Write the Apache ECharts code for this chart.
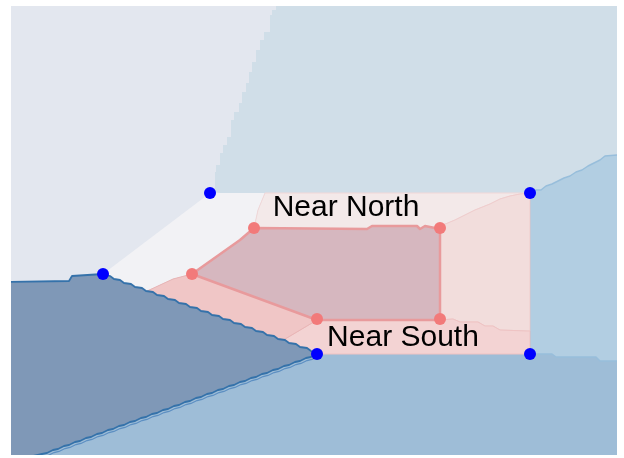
<!DOCTYPE html>
<html><head><meta charset="utf-8">
<script src="https://cdn.jsdelivr.net/npm/echarts@6/dist/echarts.min.js"></script>
<style>html,body{margin:0;padding:0;background:#fff}#c{width:624px;height:458px}</style>
</head><body><div id="c"></div>
<script>
// Map-unit polygons (x to the right, y downward)
const regionSouthBase = [[11,6],[617,6],[617,455],[11,455]];
const regionNorthEast = [[11,6],[617,6],[617,155],[605,156],[600,160],[594,163],[588,166],[582,170],[576,172],[570,176],[564,178],[558,181],[552,184],[546,186],[541,190],[536,190],[530,193],[11,193]];
const regionNorthWest = [[11,6],[276,6],[276,10],[272,10],[272,15],[270,15],[270,32],[264,32],[264,40],[260,40],[260,50],[256,50],[256,62],[252,62],[252,72],[249,72],[249,83],[246,83],[246,92],[242,92],[242,103],[239,103],[239,112],[234,112],[234,120],[231,120],[231,137],[227,137],[227,145],[223,145],[223,153],[220,153],[220,165],[216,165],[216,172],[215,172],[215,192],[226,194],[116,286],[11,286]];
const regionEast = [[530,193],[536,190],[541,190],[546,186],[552,184],[558,181],[564,178],[570,176],[576,172],[582,170],[588,166],[594,163],[600,160],[605,156],[617,155],[625,155],[625,361],[600,361],[596,357],[556,357],[552,354],[530,354]];
const westUpperEdge = [[103,274],[110,276],[114,279],[120,280],[124,283],[131,284],[135,287],[142,288],[146,291],[153,292],[157,295],[164,296],[168,299],[175,300],[179,303],[186,304],[190,307],[197,308],[201,311],[208,312],[212,315],[219,316],[223,319],[230,320],[234,323],[241,324],[245,327],[252,328],[256,331],[263,332],[267,335],[274,336],[278,339],[285,340],[289,343],[296,344],[300,347],[307,348],[311,351],[317,354]];
const westLowerEdge = [[317,354],[311,357],[306,358],[300,361],[295,362],[289,365],[284,366],[278,369],[273,370],[267,373],[262,374],[256,377],[251,378],[245,381],[240,382],[234,385],[229,386],[223,389],[218,390],[212,393],[207,394],[201,397],[196,398],[190,401],[185,402],[179,405],[174,406],[168,409],[163,410],[157,413],[152,414],[146,417],[141,418],[135,421],[130,422],[124,425],[119,426],[113,429],[108,430],[102,433],[97,434],[91,437],[86,438],[80,441],[75,442],[69,445],[64,446],[58,449],[53,450],[47,453],[42,454],[33,456],[25,460]];
const regionWest = [[3,282],[69,281],[72,276]].concat(westUpperEdge, westLowerEdge.slice(1), [[3,462]]);
const regionNearWest = [[210,193],[265,193],[258,210],[254,228],[240,240],[192,274],[173,279],[145,292],[103,277],[103,274]];
const regionNearNorth = [[265,193],[530,193],[520,194],[510,196],[500,199],[490,204],[475,210],[465,215],[455,220],[443,225],[440,229],[425,226],[420,229],[417,226],[372,226],[367,229],[254,228],[258,210]];
const regionNearEast = [[440,229],[443,225],[455,220],[465,215],[475,210],[490,204],[500,199],[510,196],[520,194],[530,193],[530,331],[527,331],[500,330],[493,326],[485,326],[478,322],[460,322],[453,319],[440,320]];
const regionNearSouth = [[317,320],[440,320],[453,319],[460,322],[478,322],[485,326],[493,326],[500,330],[527,331],[530,331],[530,354],[317,354],[280,342]];
const regionNearSouthWest = [[145,292],[173,279],[192,274],[317,320],[280,342]];
const regionCentral = [[254,228],[367,229],[372,226],[417,226],[420,229],[425,226],[440,229],[440,320],[317,320],[192,274],[240,240]];

const outerPoints = [[210,193],[530,193],[103,274],[317,354],[530,354]];
const innerPoints = [[254,228],[440,228],[192,274],[317,319],[440,319]];
const labelNames = ['Near North','Near South'];
const labelPoints = [[346,208],[403,338]];

const regions = [regionSouthBase, regionNorthEast, regionNorthWest, regionEast, regionNearWest, regionNearNorth, regionNearEast, regionNearSouth, regionNearSouthWest, regionCentral, regionWest];
const regionStyles = [
  {fill:'#9ebdd7', stroke:'none', lw:0},
  {fill:'#d0dee8', stroke:'none', lw:0},
  {fill:'#e3e7ef', stroke:'none', lw:0},
  {fill:'#b2cee2', stroke:'#98bedb', lw:1.5},
  {fill:'#f2f2f5', stroke:'none', lw:0},
  {fill:'#f3e9e9', stroke:'#f2d8d8', lw:1},
  {fill:'#f2dddc', stroke:'#f0cdcd', lw:1},
  {fill:'#f3d3d3', stroke:'#efc3c3', lw:1},
  {fill:'#f0c6c6', stroke:'#eab5b5', lw:1},
  {fill:'#d6b7bf', stroke:'#e89a9c', lw:2.5},
  {fill:'#7f98b7', stroke:'#3572aa', lw:1.8}
];

const chart = echarts.init(document.getElementById('c'));
chart.setOption({
  animation:false,
  grid:{left:11,right:7,top:6,bottom:3},
  xAxis:{type:'value',min:11,max:617,show:false},
  yAxis:{type:'value',min:6,max:455,inverse:true,show:false},
  series:[
    {
      type:'custom',
      clip:true,
      data: regions.map((r,i)=>[r[0][0], r[0][1], i]),
      renderItem:function(params, api){
        const idx = params.dataIndex;
        const pts = regions[idx].map(p=>api.coord(p));
        const s = regionStyles[idx];
        const poly = {type:'polygon', shape:{points:pts}, style:{fill:s.fill, stroke:s.stroke, lineWidth:s.lw, lineJoin:'round'}};
        if (regions[idx] === regionWest) {
          const lower = westLowerEdge.map(p=>{const c=api.coord(p); return [c[0]+1, c[1]+2.5];});
          return {type:'group', children:[poly, {type:'polyline', shape:{points:lower}, style:{fill:null, stroke:'#5d8fc2', lineWidth:1.3}}]};
        }
        return poly;
      },
      z:1
    },
    {type:'scatter', data:outerPoints, symbolSize:12, itemStyle:{color:'#0000ff',opacity:1}, z:5},
    {type:'scatter', data:innerPoints, symbolSize:12, itemStyle:{color:'#f27a7a',opacity:1}, z:5},
    {
      type:'custom',
      data: labelPoints.map((p,i)=>[p[0],p[1],i]),
      renderItem:function(params, api){
        const p = api.coord([api.value(0), api.value(1)]);
        return {type:'text', x:p[0], y:p[1], style:{text:labelNames[params.dataIndex], fill:'#000', font:'30px "Liberation Sans", Arial, sans-serif', align:'center', verticalAlign:'middle'}};
      },
      z:6
    }
  ]
});
</script></body></html>
